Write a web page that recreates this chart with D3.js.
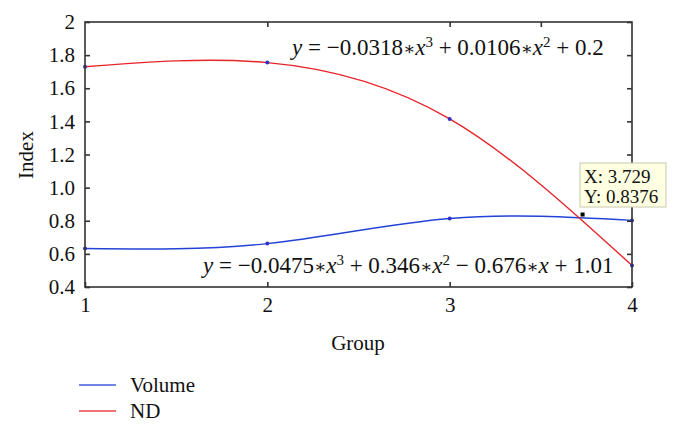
<!DOCTYPE html>
<html><head><meta charset="utf-8">
<script src="https://cdn.jsdelivr.net/npm/d3@7"></script>
<style>body{margin:0;background:#fff}svg{display:block}</style>
</head><body>
<svg id="c" width="680" height="438"></svg>
<script>
const groups = [1, 2, 3, 4];
const volume = [0.6325, 0.662, 0.8135, 0.802];
const nd = [1.73, 1.755, 1.415, 0.53];
const yTicks = [0.4, 0.6, 0.8, 1.0, 1.2, 1.4, 1.6, 1.8, 2];
const yTickLabels = ["0.4", "0.6", "0.8", "1.0", "1.2", "1.4", "1.6", "1.8", "2"];
const xTicks = [1, 2, 3, 4];
const xTickLabels = ["1", "2", "3", "4"];
const topTicks = [2, 3, 3.5];
const tipPoint = {x: 3.729, y: 0.8376};
const tipLabels = ["X: 3.729", "Y: 0.8376"];
const seriesNames = ["Volume", "ND"];

const svg = d3.select("#c");
const font = "'Liberation Serif','Times New Roman',serif";
const L = 85, R = 632, T = 22, B = 287;
const x = d3.scaleLinear().domain([1, 4]).range([L, R]);
const y = d3.scaleLinear().domain([0.4, 2]).range([B, T]);
const blue = "#2343d6", red = "#e8242b", axisCol = "#333";

// curves
const line = d3.line().x(d => x(d[0])).y(d => y(d[1])).curve(d3.curveNatural);
const vData = groups.map((g, i) => [g, volume[i]]);
const nData = groups.map((g, i) => [g, nd[i]]);
svg.append("path").attr("d", line(vData)).attr("fill", "none").attr("stroke", blue).attr("stroke-width", 1.4);
svg.append("path").attr("d", line(nData)).attr("fill", "none").attr("stroke", red).attr("stroke-width", 1.4);

// markers
[vData, nData].forEach(data => {
  svg.selectAll(null).data(data).enter().append("circle")
    .attr("cx", d => x(d[0])).attr("cy", d => y(d[1])).attr("r", 2)
    .attr("fill", "#3030c8");
});

// frame
svg.append("rect").attr("x", L).attr("y", T).attr("width", R - L).attr("height", B - T)
  .attr("fill", "none").attr("stroke", axisCol).attr("stroke-width", 1.6);

// axes via d3
const yAxisL = d3.axisLeft(y).tickValues(yTicks).tickFormat((d, i) => yTickLabels[i]).tickSizeInner(-5).tickSizeOuter(0).tickPadding(10);
const gL = svg.append("g").attr("transform", `translate(${L},0)`).call(yAxisL);
const yAxisR = d3.axisRight(y).tickValues(yTicks).tickFormat("").tickSizeInner(-5).tickSizeOuter(0);
const gR = svg.append("g").attr("transform", `translate(${R},0)`).call(yAxisR);
const xAxisB = d3.axisBottom(x).tickValues(xTicks).tickFormat((d, i) => xTickLabels[i]).tickSizeInner(-5).tickSizeOuter(0).tickPadding(10);
const gB = svg.append("g").attr("transform", `translate(0,${B})`).call(xAxisB);
const xAxisT = d3.axisTop(x).tickValues(topTicks).tickFormat("").tickSizeInner(-5).tickSizeOuter(0);
const gT = svg.append("g").attr("transform", `translate(0,${T})`).call(xAxisT);
[gL, gR, gB, gT].forEach(g => {
  g.select(".domain").remove();
  g.selectAll("line").attr("stroke", axisCol).attr("stroke-width", 1.6);
  g.selectAll("text").attr("font-family", font).attr("font-size", 21).attr("fill", "#111");
});

// axis titles
svg.append("text").attr("x", 358).attr("y", 350).attr("text-anchor", "middle")
  .attr("font-family", font).attr("font-size", 21).attr("fill", "#111").text("Group");
svg.append("text").attr("transform", "translate(33,155) rotate(-90)").attr("text-anchor", "middle")
  .attr("font-family", font).attr("font-size", 21).attr("fill", "#111").text("Index");

// equations
function equation(parts, ex, ey) {
  const t = svg.append("text").attr("x", ex).attr("y", ey).attr("font-family", font)
    .attr("font-size", 23).attr("fill", "#111");
  parts.forEach(p => {
    const s = t.append("tspan").text(p.t);
    if (p.i) s.attr("font-style", "italic");
    if (p.sup) s.attr("baseline-shift", "super").attr("font-size", 15);
    if (p.op) s.attr("font-size", 18).attr("font-family", "'DejaVu Serif',serif").attr("font-weight", 300);
  });
}
const star = {t: "∗", op: 1};
equation([{t: "y", i: 1}, {t: " = −0.0318"}, star, {t: "x", i: 1}, {t: "3", sup: 1}, {t: " + 0.0106"}, star, {t: "x", i: 1}, {t: "2", sup: 1}, {t: " + 0.2"}], 292, 55);
equation([{t: "y", i: 1}, {t: " = −0.0475"}, star, {t: "x", i: 1}, {t: "3", sup: 1}, {t: " + 0.346"}, star, {t: "x", i: 1}, {t: "2", sup: 1}, {t: " − 0.676"}, star, {t: "x", i: 1}, {t: " + 1.01"}], 203, 273);

// data tip
svg.append("rect").attr("x", 580).attr("y", 163).attr("width", 86).attr("height", 44)
  .attr("fill", "#ffffe1").attr("stroke", "#c8c8b0").attr("stroke-width", 1);
tipLabels.forEach((s, i) => {
  svg.append("text").attr("x", 584).attr("y", 183 + i * 20).attr("font-family", font)
    .attr("font-size", 19).attr("fill", "#111").text(s);
});
svg.append("rect").attr("x", x(tipPoint.x) - 2).attr("y", y(tipPoint.y) - 2).attr("width", 4).attr("height", 4).attr("fill", "#000");

// legend
const legendCols = [blue, red];
seriesNames.forEach((n, i) => {
  const ly = 385 + i * 26;
  svg.append("line").attr("x1", 79).attr("x2", 116).attr("y1", ly).attr("y2", ly)
    .attr("stroke", legendCols[i]).attr("stroke-width", 1.5).attr("opacity", 0.85);
  svg.append("text").attr("x", 130).attr("y", ly + 7).attr("font-family", font)
    .attr("font-size", 21).attr("fill", "#111").text(n);
});
</script>
</body></html>
